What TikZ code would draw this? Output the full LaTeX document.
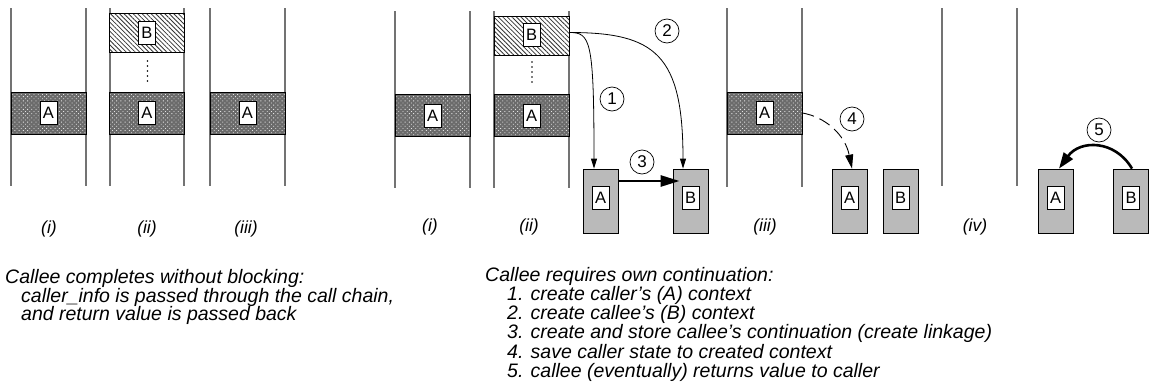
\documentclass[tikz,border=0pt]{standalone}
\usepackage{fontspec}
\setmainfont{Liberation Sans}
\usetikzlibrary{arrows.meta,patterns.meta,calc}
\begin{document}
\begin{tikzpicture}[x=1pt,y=-1pt,
  stackline/.style={draw=black!55, line width=1.2pt},
  bandA/.style={draw=black, line width=0.8pt, preaction={fill=black!58},
    pattern={Dots[distance=3pt,radius=0.6pt,angle=45]}, pattern color=white!90!black,
    minimum width=75pt, minimum height=42pt, inner sep=0pt},
  bandB/.style={draw=black, line width=0.8pt, preaction={fill=white},
    pattern={Lines[angle=-45,distance=3.2pt,line width=0.8pt]}, pattern color=black!80,
    minimum width=75pt, minimum height=39pt, inner sep=0pt},
  lab/.style={draw, fill=white, line width=0.7pt, minimum width=17pt, minimum height=23pt,
    inner sep=0pt, font=\fontsize{16.5}{16.5}\selectfont},
  ctx/.style={draw, fill=black!27, line width=0.8pt, minimum width=35pt, minimum height=64pt, inner sep=0pt},
  num/.style={circle, draw, fill=white, minimum size=24pt, inner sep=0pt, line width=0.7pt,
    font=\fontsize{17}{17}\selectfont},
  roman/.style={inner sep=0pt, font=\fontsize{17.5}{17.5}\selectfont\itshape},
  capt/.style={anchor=base west, inner sep=0pt, font=\fontsize{19.5}{19.5}\selectfont\itshape},
  thinarrow/.style={line width=0.8pt, -{Triangle[length=10pt,width=6pt]}},
  vdots/.style={line width=1.7pt, dash pattern=on 0pt off 5pt, line cap=round}
]
\useasboundingbox (0,0) rectangle (1149,383);

% ---------- group 1 ----------
\draw[stackline] (11,8) -- (11,186);
\draw[stackline] (86,8) -- (86,186);
\draw[stackline] (110,8) -- (110,186);
\draw[stackline] (184,8) -- (184,186);
\draw[stackline] (210,8) -- (210,186);
\draw[stackline] (285,8) -- (285,186);

\node[bandA] (g1a1) at (48.5,113) {};
\node[lab] (g1la1) at (48.5,113) {A};
\node[bandB] (g1b2) at (147,32.5) {};
\node[lab] (g1lb2) at (147,33) {B};
\draw[vdots] (147.5,61) -- (147.5,83);
\node[bandA] (g1a2) at (147,113) {};
\node[lab] (g1la2) at (147,113) {A};
\node[bandA] (g1a3) at (247.5,113) {};
\node[lab] (g1la3) at (247.5,113) {A};

\node[roman] (r1) at (49,229) {(i)};
\node[roman] (r2) at (147,229) {(ii)};
\node[roman] (r3) at (246,229) {(iii)};

% ---------- group 2 ----------
\draw[stackline] (395,11) -- (395,188);
\draw[stackline] (470,11) -- (470,188);
\draw[stackline] (494,11) -- (494,188);
\draw[stackline] (569,11) -- (569,188);

\node[bandA] (g2a1) at (432.5,115.5) {};
\node[lab] (g2la1) at (432.5,115.5) {A};
\node[bandB] (g2b2) at (531.5,35.5) {};
\node[lab] (g2lb2) at (531.5,35) {B};
\draw[vdots] (532,62) -- (532,84);
\node[bandA] (g2a2) at (531.5,115.5) {};
\node[lab] (g2la2) at (531.5,115.5) {A};

\node[ctx] (cA1) at (600.5,201) {};
\node[lab] (lcA1) at (600.5,198) {A};
\node[ctx] (cB1) at (690.5,201) {};
\node[lab] (lcB1) at (690.5,198) {B};

\coordinate (s12) at ($(g2b2.east)+(0,-3)$);
\draw[thinarrow] (s12) .. controls +(21,0) and +(0,-129) .. ([xshift=-6.5pt]cA1.north);
\draw[thinarrow] (s12) .. controls +(86,0) and +(0,-114) .. ([xshift=-7.5pt]cB1.north);
\draw[line width=2.6pt, -{Triangle[length=19pt,width=11pt]}] (cA1.east |- 0,181) -- ([xshift=7pt]cB1.west |- 0,181);

\node[num] (n1) at (612,99) {1};
\node[num] (n2) at (667,31) {2};
\node[num] (n3) at (642,162) {3};

\node[roman] (r4) at (430,227) {(i)};
\node[roman] (r5) at (529,227) {(ii)};

% ---------- group 3 ----------
\draw[stackline] (727,8) -- (727,187);
\draw[stackline] (802,8) -- (802,187);
\node[bandA] (g3a1) at (764.5,113) {};
\node[lab] (g3la1) at (764.5,113) {A};

\node[ctx] (cA2) at (849.5,201) {};
\node[lab] (lcA2) at (849.5,198) {A};
\node[ctx] (cB2) at (900.5,201) {};
\node[lab] (lcB2) at (900.5,198) {B};

\draw[line width=0.9pt, dash pattern=on 12pt off 6pt, -{Triangle[length=14pt,width=8pt]}]
  (g3a1.east) .. controls +(23,4) and +(-7,-34) .. ([xshift=2.5pt]cA2.north);
\node[num] (n4) at (852,119) {4};

\draw[stackline] (942,8) -- (942,186);
\draw[stackline] (1017,8) -- (1017,186);

\node[ctx] (cA3) at (1055.5,201) {};
\node[lab] (lcA3) at (1055.5,198) {A};
\node[ctx] (cB3) at (1131,201) {};
\node[lab] (lcB3) at (1131,198) {B};

\draw[line width=2.6pt, -{Triangle[length=16pt,width=11pt]}]
  ([xshift=1pt]cB3.north) .. controls +(-17,-29) and +(21,-29) .. ([xshift=3.5pt]cA3.north);
\node[num] (n5) at (1099,130) {5};

\node[roman] (r6) at (765,227) {(iii)};
\node[roman] (r7) at (975,227) {(iv)};

% ---------- captions ----------
\node[capt] (c1) at (5,283) {Callee completes without blocking:};
\node[capt] (c2) at (21,302) {caller\_info is passed through the call chain,};
\node[capt] (c3) at (21,320) {and return value is passed back};

\node[capt] (d0) at (485,281) {Callee requires own continuation:};
\node[capt] (d1) at (507,300) {1. create caller’s (A) context};
\node[capt] (d2) at (507,319) {2. create callee’s (B) context};
\node[capt] (d3) at (507,338) {3. create and store callee’s continuation (create linkage)};
\node[capt] (d4) at (507,358) {4. save caller state to created context};
\node[capt] (d5) at (507,377) {5. callee (eventually) returns value to caller};
\end{tikzpicture}
\end{document}
